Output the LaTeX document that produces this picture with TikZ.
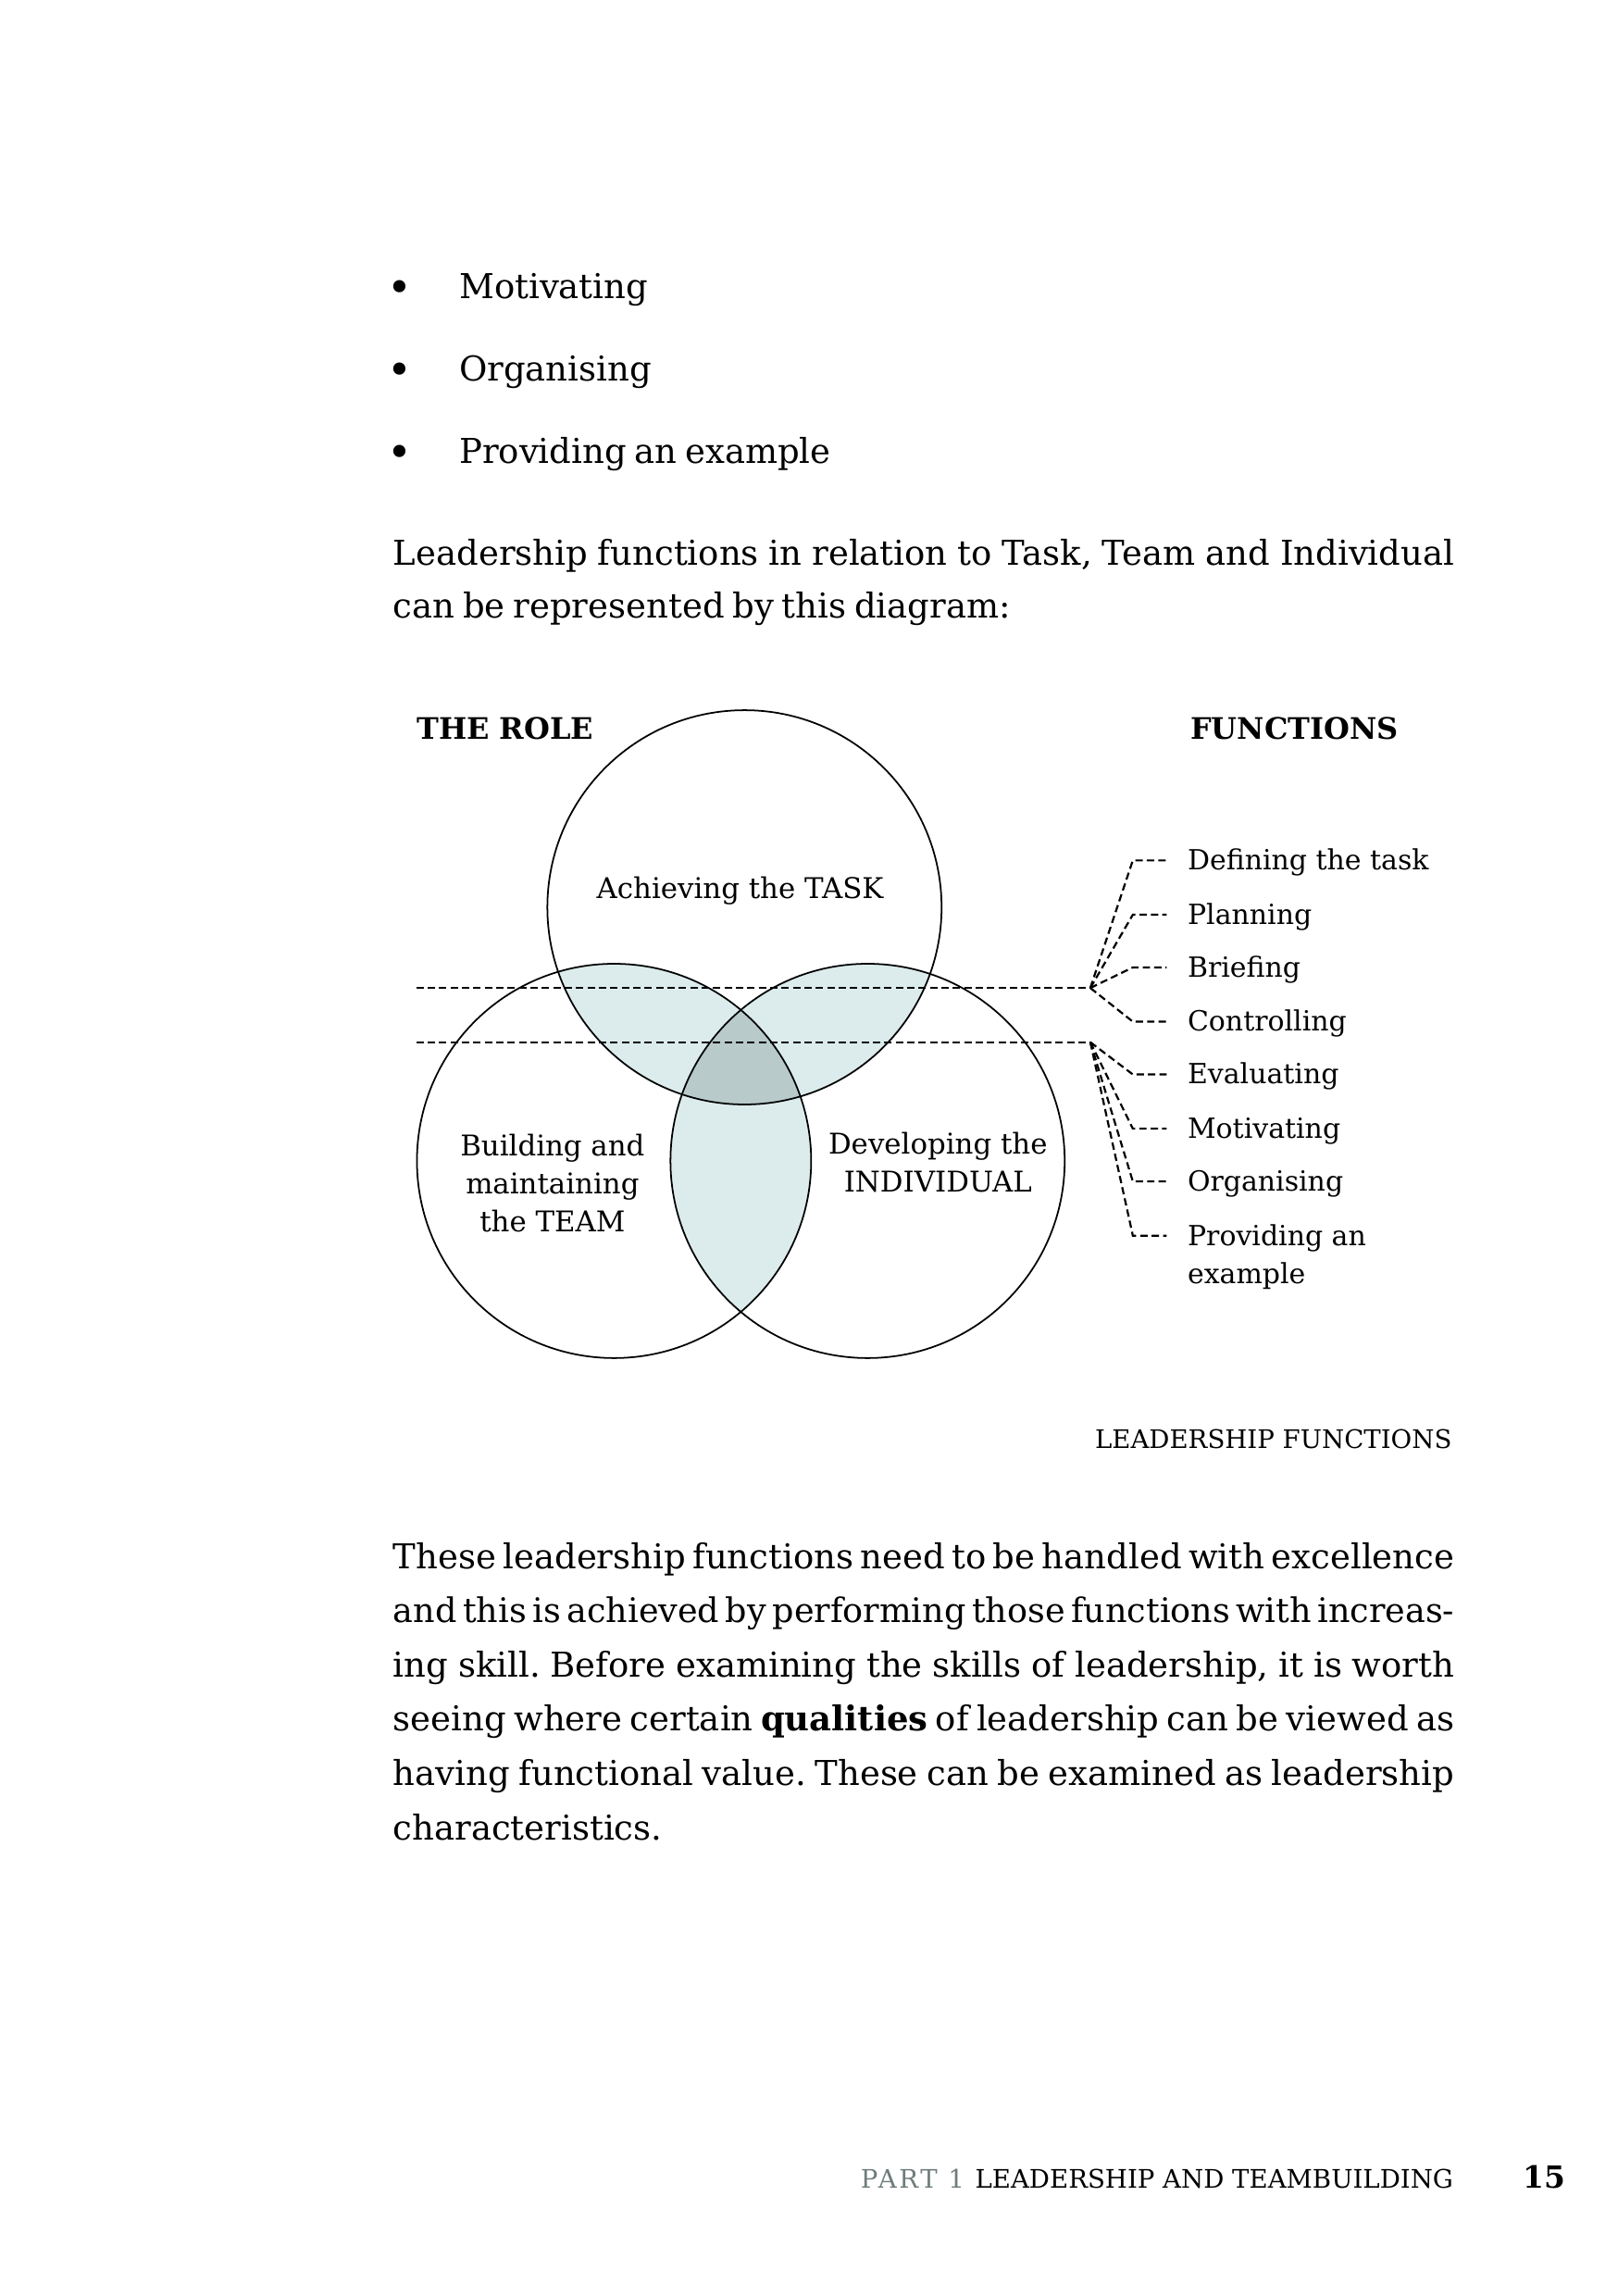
\documentclass[tikz,border=0pt]{standalone}
\usepackage{fontspec}
\setmainfont{DejaVu Serif}
\newfontfamily\bodyfam[WordSpace=0.75]{DejaVu Serif}
\usetikzlibrary{calc}
\frenchspacing

\definecolor{pairfill}{HTML}{DCECEC}
\definecolor{corefill}{HTML}{B8CACA}
\definecolor{partgray}{HTML}{6F7C7C}

\newcommand{\bodyfont}{\bodyfam\fontsize{12.6}{20}\selectfont}
\newcommand{\tightfont}{\bodyfam\fontsize{12.45}{20}\selectfont}
\newcommand{\figfont}{\fontsize{10.2}{14}\selectfont}
\newcommand{\ringfont}{\fontsize{10.5}{14}\selectfont}
\newcommand{\headfont}{\fontsize{10.9}{14}\selectfont\bfseries}
\newcommand{\capfont}{\fontsize{9.4}{12}\selectfont}
\newlength{\colw}\setlength{\colw}{390.4pt}
\newcommand{\fullline}[1]{\makebox[\colw][s]{#1}}

\begin{document}
\begin{tikzpicture}[x=0.5392pt, y=-0.5392pt,
  body/.style={anchor=base west, inner sep=0pt, font=\bodyfont},
  dot/.style={inner sep=0pt, font=\fontsize{15.5}{15.5}\selectfont},
  fig/.style={inner sep=0pt, font=\ringfont, align=center},
  func/.style={anchor=base west, inner sep=0pt, font=\figfont, align=left},
  ring/.style={line width=0.6pt},
  guide/.style={line width=0.75pt, dash pattern=on 2.7pt off 1.5pt},
]
\useasboundingbox (0,0) rectangle (1104,1566.4);

% Text above the diagram
\node[dot]  (bulA) at (273,199) {•};
\node[body] (itA)  at (313,204) {Motivating};
\node[dot]  (bulB) at (273,255) {•};
\node[body] (itB)  at (313,260) {Organising};
\node[dot]  (bulC) at (273,311) {•};
\node[body] (itC)  at (313,316) {Providing an example};
\node[body] (intro1) at (268,385.5) {\fullline{Leadership functions in relation to Task, Team and Individual}};
\node[body] (intro2) at (268,421.5) {can be represented by this diagram:};

% Headings
\node[anchor=base west, inner sep=0pt, font=\headfont] (role) at (284,504.5) {THE ROLE};
\node[anchor=base west, inner sep=0pt, font=\headfont] (funcs) at (812,504.5) {FUNCTIONS};

% Circle centres
\def\rad{134.5}
\coordinate (cTask)  at (508,619);
\coordinate (cTeam)  at (419,792);
\coordinate (cIndiv) at (592,792);

% Overlaps
\begin{scope}
  \clip (cTask) circle (\rad);
  \fill[pairfill] (cTeam) circle (\rad);
  \fill[pairfill] (cIndiv) circle (\rad);
\end{scope}
\begin{scope}
  \clip (cTeam) circle (\rad);
  \fill[pairfill] (cIndiv) circle (\rad);
\end{scope}
\begin{scope}
  \clip (cTask) circle (\rad);
  \clip (cTeam) circle (\rad);
  \fill[corefill] (cIndiv) circle (\rad);
\end{scope}

\draw[ring] (cTask) circle (\rad);
\draw[ring] (cTeam) circle (\rad);
\draw[ring] (cIndiv) circle (\rad);

\node[fig] (task)  at (505,608) {Achieving the TASK};
\node[fig] (team)  at (377,807) {Building and\\maintaining\\the TEAM};
\node[fig] (indiv) at (640,793) {Developing the\\INDIVIDUAL};

% Guide lines
\coordinate (lUp) at (284,674);
\coordinate (jUp) at (744,674);
\coordinate (lDn) at (284,711);
\coordinate (jDn) at (744,711);
\draw[guide] (lUp) -- (jUp);
\draw[guide] (lDn) -- (jDn);

% Functions
\node[func] (fDefine) at (810,593.5) {Defining the task};
\node[func] (fPlan)   at (810,630.5) {Planning};
\node[func] (fBrief)  at (810,666.5) {Briefing};
\node[func] (fCtrl)   at (810,703.5) {Controlling};
\node[func] (fEval)   at (810,739.5) {Evaluating};
\node[func] (fMotiv)  at (810,776.5) {Motivating};
\node[func] (fOrgan)  at (810,812.5) {Organising};
\node[func] (fExam)   at (810,875.5) {Providing an\\example};

\draw[guide] (jUp) -- ($(fDefine.base west)+(-37,-6.5)$) -- ($(fDefine.base west)+(-14,-6.5)$);
\draw[guide] (jUp) -- ($(fPlan.base west)+(-37,-6.5)$) -- ($(fPlan.base west)+(-14,-6.5)$);
\draw[guide] (jUp) -- ($(fBrief.base west)+(-37,-6.5)$) -- ($(fBrief.base west)+(-14,-6.5)$);
\draw[guide] (jUp) -- ($(fCtrl.base west)+(-37,-6.5)$) -- ($(fCtrl.base west)+(-14,-6.5)$);
\draw[guide] (jDn) -- ($(fEval.base west)+(-37,-6.5)$) -- ($(fEval.base west)+(-14,-6.5)$);
\draw[guide] (jDn) -- ($(fMotiv.base west)+(-37,-6.5)$) -- ($(fMotiv.base west)+(-14,-6.5)$);
\draw[guide] (jDn) -- ($(fOrgan.base west)+(-37,-6.5)$) -- ($(fOrgan.base west)+(-14,-6.5)$);
\draw[guide] (jDn) -- ($(fExam.base west)+(-37,-32.5)$) -- ($(fExam.base west)+(-14,-32.5)$);

% Caption
\node[anchor=base east, inner sep=0pt, font=\capfont] (caption) at (991,988) {LEADERSHIP FUNCTIONS};

% Text below the diagram
\node[body] (par1) at (268,1070) {\fullline{These leadership functions need to be handled with excellence}};
\node[body, font=\tightfont] (par2) at (268,1107) {\fullline{and this is achieved by performing those functions with increas-}};
\node[body] (par3) at (268,1144) {\fullline{ing skill. Before examining the skills of leadership, it is worth}};
\node[body] (par4) at (268,1181) {\fullline{seeing where certain \textbf{qualities} of leadership can be viewed as}};
\node[body] (par5) at (268,1218) {\fullline{having functional value. These can be examined as leadership}};
\node[body] (par6) at (268,1255) {characteristics.};

% Footer
\node[anchor=base west, inner sep=0pt, font=\capfont\addfontfeature{LetterSpace=10}, text=partgray] (part) at (587,1492.5) {PART 1};
\node[anchor=base east, inner sep=0pt, font=\capfont] (book) at (992,1492.5) {LEADERSHIP AND TEAMBUILDING};
\node[anchor=base west, inner sep=0pt, font=\fontsize{11.2}{14}\selectfont\bfseries] (page) at (1039,1493) {15};

\end{tikzpicture}
\end{document}
